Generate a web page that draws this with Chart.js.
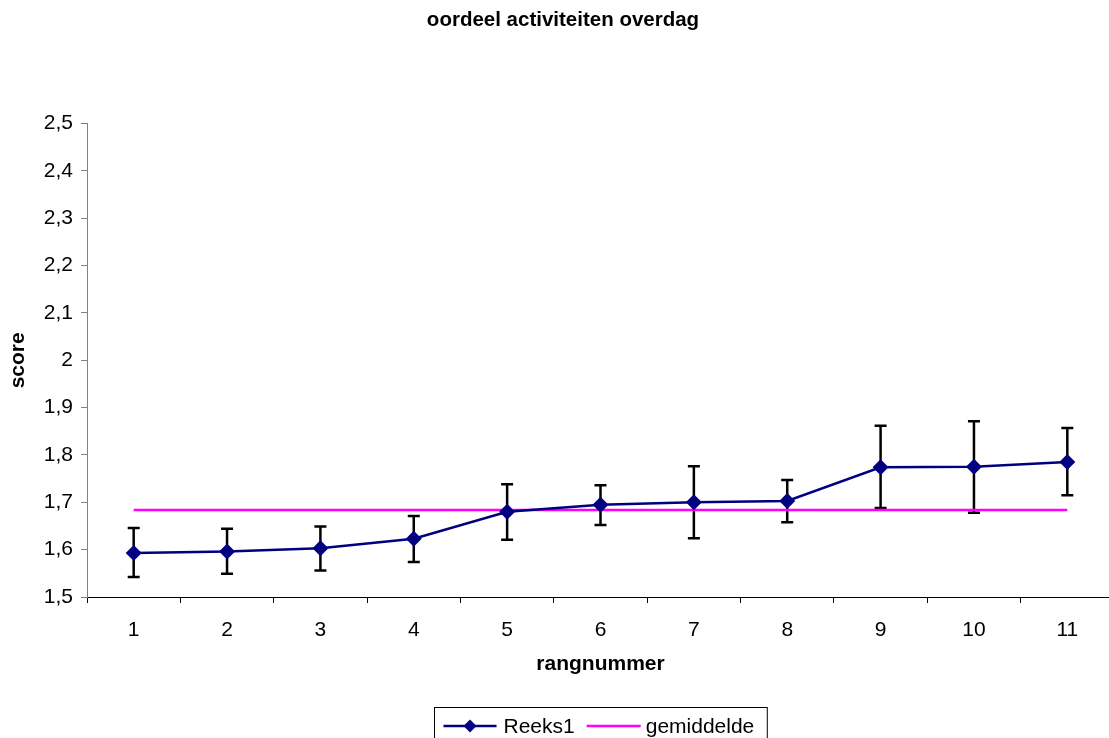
<!DOCTYPE html>
<html>
<head>
<meta charset="utf-8">
<script src="https://cdn.jsdelivr.net/npm/chart.js@4.4.0/dist/chart.umd.min.js"></script>
<style>
  html, body { margin: 0; padding: 0; background: #fff; overflow: hidden; }
  canvas { display: block; }
</style>
</head>
<body>
<canvas id="chart" width="1114" height="738"></canvas>
<script>
const labels = ['1', '2', '3', '4', '5', '6', '7', '8', '9', '10', '11'];
const reeks1 = [1.593, 1.596, 1.603, 1.623, 1.680, 1.695, 1.700, 1.703, 1.774, 1.775, 1.785];
const errHigh = [1.646, 1.644, 1.649, 1.671, 1.738, 1.736, 1.776, 1.747, 1.862, 1.871, 1.857];
const errLow = [1.542, 1.549, 1.556, 1.574, 1.621, 1.652, 1.624, 1.658, 1.688, 1.678, 1.715];
const gemiddelde = [1.684, 1.684, 1.684, 1.684, 1.684, 1.684, 1.684, 1.684, 1.684, 1.684, 1.684];

const FONT = "'Liberation Sans', Arial, sans-serif";

// error bars, drawn under the markers
const errorBars = {
    id: 'errorBars',
    beforeDatasetsDraw(chart) {
        const ctx = chart.ctx;
        const x = chart.scales.x, y = chart.scales.y;
        ctx.save();
        ctx.strokeStyle = '#000';
        ctx.lineWidth = 2.5;
        for (let i = 0; i < labels.length; i++) {
            const px = x.getPixelForValue(i);
            const top = y.getPixelForValue(errHigh[i]);
            const bot = y.getPixelForValue(errLow[i]);
            ctx.beginPath();
            ctx.moveTo(px, top); ctx.lineTo(px, bot);
            ctx.moveTo(px - 6, top); ctx.lineTo(px + 6, top);
            ctx.moveTo(px - 6, bot); ctx.lineTo(px + 6, bot);
            ctx.stroke();
        }
        ctx.restore();
    }
};

// boxed legend under the chart, like the excel one
const boxLegend = {
    id: 'boxLegend',
    afterDraw(chart) {
        const ctx = chart.ctx;
        const area = chart.chartArea;
        ctx.save();
        ctx.font = '21px ' + FONT;
        const w1 = ctx.measureText('Reeks1').width;
        const w2 = ctx.measureText('gemiddelde').width;
        const boxW = 9 + 53 + 7 + w1 + 12 + 54 + 5 + w2 + 13;
        const left = Math.round((area.left + area.right) / 2 - boxW / 2) + 0.5;
        const top = 707.5;
        const cy = 726;
        ctx.strokeStyle = '#000';
        ctx.lineWidth = 1;
        ctx.strokeRect(left, top, boxW, 45);

        let cx = left + 9;
        ctx.strokeStyle = '#000080';
        ctx.lineWidth = 2.5;
        ctx.beginPath(); ctx.moveTo(cx, cy); ctx.lineTo(cx + 53, cy); ctx.stroke();
        ctx.fillStyle = '#000080';
        const mx = cx + 26.5, r = 6.5;
        ctx.beginPath();
        ctx.moveTo(mx - r, cy); ctx.lineTo(mx, cy - r); ctx.lineTo(mx + r, cy); ctx.lineTo(mx, cy + r);
        ctx.closePath(); ctx.fill();
        cx += 60;
        ctx.fillStyle = '#000';
        ctx.textBaseline = 'middle';
        ctx.fillText('Reeks1', cx, cy + 1);
        cx += w1 + 12;
        ctx.strokeStyle = '#FF00FF';
        ctx.beginPath(); ctx.moveTo(cx, cy); ctx.lineTo(cx + 54, cy); ctx.stroke();
        cx += 59;
        ctx.fillText('gemiddelde', cx, cy + 1);
        ctx.restore();
    }
};

new Chart(document.getElementById('chart'), {
    type: 'line',
    data: {
        labels: labels,
        datasets: [
            {
                label: 'Reeks1',
                data: reeks1,
                borderColor: '#000080',
                backgroundColor: '#000080',
                borderWidth: 2.5,
                pointStyle: 'rectRot',
                pointRadius: 8,
                pointBorderWidth: 0,
                tension: 0
            },
            {
                label: 'gemiddelde',
                data: gemiddelde,
                borderColor: '#FF00FF',
                borderWidth: 2.5,
                pointRadius: 0,
                tension: 0
            }
        ]
    },
    options: {
        responsive: false,
        animation: false,
        events: [],
        layout: { autoPadding: false, padding: { left: 12, right: 0, top: 0, bottom: 61 } },
        plugins: {
            legend: { display: false },
            tooltip: { enabled: false },
            title: {
                display: true,
                text: 'oordeel activiteiten overdag',
                color: '#000',
                font: { family: FONT, size: 20.5, weight: 'bold' },
                padding: { top: 8, bottom: 91 }
            }
        },
        scales: {
            x: {
                offset: true,
                grid: { offset: true, drawOnChartArea: false, drawTicks: true, tickLength: 6, color: '#000' },
                border: { display: true, color: '#000', width: 1 },
                ticks: { color: '#000', padding: 15, maxRotation: 0, font: { family: FONT, size: 21 } },
                title: {
                    display: true,
                    text: 'rangnummer',
                    color: '#000',
                    font: { family: FONT, size: 21, weight: 'bold' },
                    padding: { top: 0, bottom: 0 }
                },
                afterFit(scale) { scale.height = 80; }
            },
            y: {
                min: 1.5,
                max: 2.5,
                grid: { drawOnChartArea: false, drawTicks: true, tickLength: 6, color: '#808080' },
                border: { display: true, color: '#808080', width: 1 },
                ticks: {
                    stepSize: 0.1,
                    color: '#000',
                    padding: 8,
                    font: { family: FONT, size: 21 },
                    callback: v => String(Number(v.toFixed(1))).replace('.', ',')
                },
                title: {
                    display: true,
                    text: 'score',
                    color: '#000',
                    font: { family: FONT, size: 21, weight: 'bold' },
                    padding: { top: -6.6, bottom: 0 }
                },
                afterFit(scale) { scale.width = 75; }
            }
        }
    },
    plugins: [errorBars, boxLegend]
});
</script>
</body>
</html>
